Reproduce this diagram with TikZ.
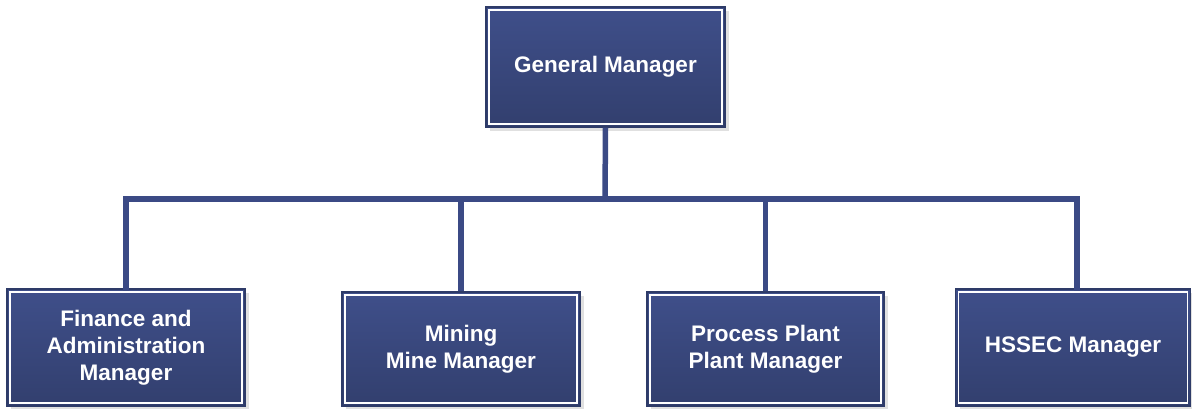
\documentclass[tikz,border=0pt]{standalone}
\usepackage{fontspec}
\setmainfont{Liberation Sans}
\usetikzlibrary{shadows}
\definecolor{boxtop}{HTML}{3F4F8A}
\definecolor{boxbot}{HTML}{323F6E}
\definecolor{boxline}{HTML}{2E3B68}
\definecolor{conn}{HTML}{3B4A85}
\tikzset{
  orgbox/.style={rectangle, minimum width=238pt, minimum height=117pt, inner sep=0pt,
    top color=boxtop, bottom color=boxbot, draw=boxline, line width=1.2pt,
    drop shadow={shadow xshift=4pt, shadow yshift=-4pt, fill=black!12, opacity=1},
    align=center, text=white, font=\fontsize{22.5pt}{27pt}\selectfont\bfseries,
    path picture={\draw[white,line width=1.6pt]
      ([shift={(3pt,3pt)}]path picture bounding box.south west) rectangle
      ([shift={(-3pt,-3pt)}]path picture bounding box.north east);}},
  link/.style={draw=conn, line width=5.5pt}
}
\begin{document}
\begin{tikzpicture}[x=1pt,y=-1pt]
\useasboundingbox (0,0) rectangle (1192,409);
\node[orgbox, minimum width=239pt, minimum height=120pt] (gm) at (605.5,67) {General Manager};
\node[orgbox] (fa) at (126,347.5) {Finance and\\Administration\\Manager};
\node[orgbox, minimum height=114pt] (mm) at (461,349) {Mining\\Mine Manager};
\node[orgbox, minimum width=237pt, minimum height=114pt] (pp) at (765.5,349) {Process Plant\\Plant Manager};
\node[orgbox, minimum width=235pt, minimum height=117pt] (hs) at (1073,347.5) {HSSEC Manager};
\coordinate (bus) at (605,199);
\draw[link] (gm.south) -- (bus);
\draw[link, line cap=rect] (fa.north) |- (bus) -| ([xshift=4pt]hs.north);
\draw[link] (mm.north) -- (mm.north |- bus);
\draw[link] (pp.north) -- (pp.north |- bus);
\end{tikzpicture}
\end{document}
